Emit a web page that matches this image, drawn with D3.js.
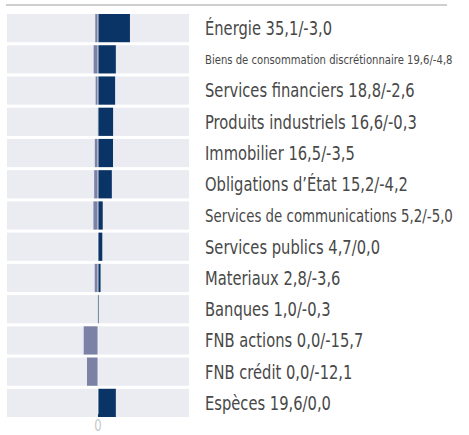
<!DOCTYPE html>
<html>
<head>
<meta charset="utf-8">
<script src="https://cdn.jsdelivr.net/npm/d3@7"></script>
<style>
  html, body { margin: 0; padding: 0; background: #fff; }
  svg { display: block; }
  .lbl { font-family: "DejaVu Sans", sans-serif; }
</style>
</head>
<body>
<div id="chart"></div>
<script>
const CATEGORIES = [
  'Énergie',
  'Biens de consommation discrétionnaire',
  'Services financiers',
  'Produits industriels',
  'Immobilier',
  'Obligations d’État',
  'Services de communications',
  'Services publics',
  'Materiaux',
  'Banques',
  'FNB actions',
  'FNB crédit',
  'Espèces'
];
const GAINS = [35.1, 19.6, 18.8, 16.6, 16.5, 15.2, 5.2, 4.7, 2.8, 1.0, 0.0, 0.0, 19.6];
const LOSSES = [-3.0, -4.8, -2.6, -0.3, -3.5, -4.2, -5.0, 0.0, -3.6, -0.3, -15.7, -12.1, 0.0];
const X_TICKS = [0];

const W = 469, H = 435;
const PLOT = { left: 7, right: 189, top: 14, bottom: 414 };
const LABEL_X = 205;
const LABEL_MAX_W = 250;
const SQUEEZE = 0.775; // fake a condensed face

const fmt = v => v.toFixed(1).replace('.', ',');

const svg = d3.select('#chart')
  .append('svg')
  .attr('width', W)
  .attr('height', H);

// top rule
svg.append('rect')
  .attr('x', 6)
  .attr('y', 4)
  .attr('width', 441)
  .attr('height', 2)
  .attr('fill', '#cfcfcf');

const x = d3.scaleLinear().domain([-100, 100]).range([PLOT.left, PLOT.right]);
const y = d3.scaleBand()
  .domain(CATEGORIES)
  .range([PLOT.top, PLOT.bottom + 3])
  .paddingInner(3 / 31)
  .paddingOuter(0);

const rows = svg.append('g')
  .selectAll('g')
  .data(CATEGORIES.map((c, i) => ({ c, gain: GAINS[i], loss: LOSSES[i] })))
  .join('g');

rows.append('rect')
  .attr('x', PLOT.left)
  .attr('y', d => y(d.c))
  .attr('width', PLOT.right - PLOT.left)
  .attr('height', y.bandwidth())
  .attr('fill', '#ebecf2');

rows.append('rect')
  .attr('x', d => x(d.loss))
  .attr('y', d => y(d.c))
  .attr('width', d => x(0) - x(d.loss))
  .attr('height', y.bandwidth())
  .attr('fill', '#7b82a6');

rows.append('rect')
  .attr('x', x(0))
  .attr('y', d => y(d.c))
  .attr('width', d => x(d.gain) - x(0))
  .attr('height', y.bandwidth())
  .attr('fill', '#0b3466');

// zero line
svg.append('line')
  .attr('x1', x(0))
  .attr('x2', x(0))
  .attr('y1', PLOT.top)
  .attr('y2', PLOT.bottom)
  .attr('stroke', '#fff')
  .attr('stroke-opacity', 0.8)
  .attr('stroke-width', 1);

// shrink a squeezed text until it fits maxW
function fit(sel, size, maxW) {
  sel.each(function () {
    const t = d3.select(this).attr('font-size', size);
    let s = size;
    while (this.getComputedTextLength() * SQUEEZE > maxW && s > 8) {
      s -= 0.25;
      t.attr('font-size', s);
    }
  });
}

rows.append('text')
  .attr('class', 'lbl')
  .attr('transform', d => `translate(${LABEL_X},${y(d.c) + y.bandwidth() / 2}) scale(${SQUEEZE},1)`)
  .attr('dy', '0.36em')
  .attr('fill', '#484848')
  .text(d => `${d.c} ${fmt(d.gain)}/${fmt(d.loss)}`)
  .call(fit, 19, LABEL_MAX_W);

svg.append('g')
  .selectAll('text')
  .data(X_TICKS)
  .join('text')
  .attr('class', 'lbl')
  .attr('transform', d => `translate(${x(d)},426) scale(${SQUEEZE},1)`)
  .attr('dy', '0.36em')
  .attr('text-anchor', 'middle')
  .attr('font-size', 15)
  .attr('fill', '#c8c8c8')
  .text(d => d);
</script>
</body>
</html>
